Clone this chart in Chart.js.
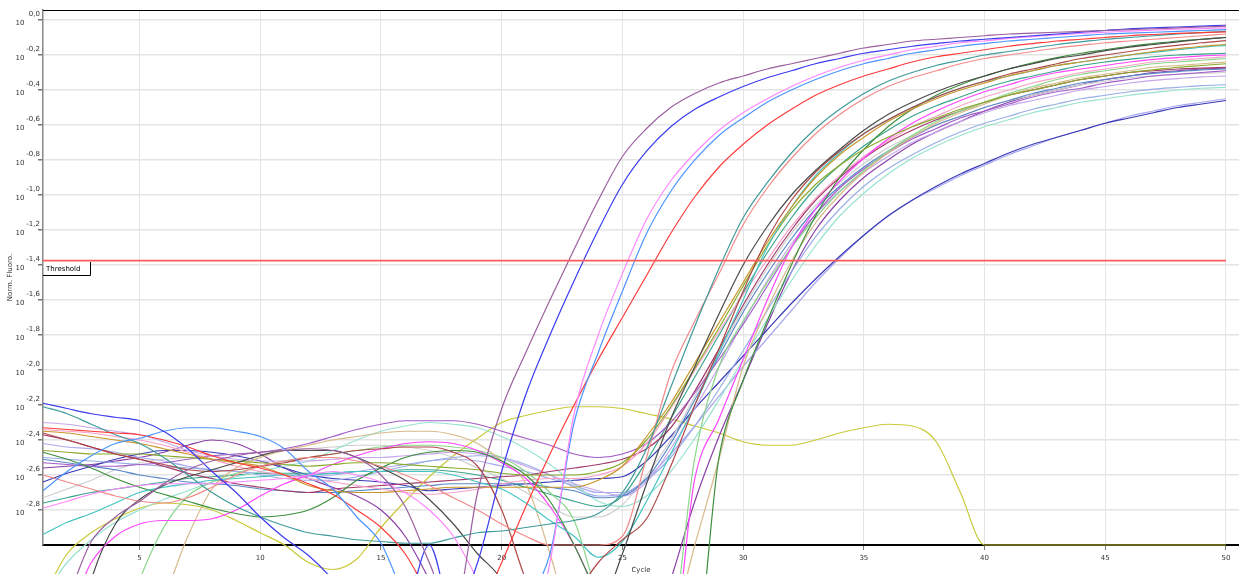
<!DOCTYPE html>
<html><head><meta charset="utf-8">
<script src="https://cdn.jsdelivr.net/npm/chart.js@4.4.1/dist/chart.umd.min.js"></script>
<style>html,body{margin:0;padding:0;background:#fff;overflow:hidden}canvas{display:block}</style>
</head><body>
<canvas id="c" width="1239" height="574"></canvas>
<script>
// ---- data (log10 of normalised fluorescence) ----
const cycles = [1,2,3,4,5,6,7,8,9,10,11,12,13,14,15,16,17,18,19,20,21,22,23,24,25,26,27,28,29,30,31,32,33,34,35,36,37,38,39,40,41,42,43,44,45,46,47,48,49,50];
const xTickValues = [5,10,15,20,25,30,35,40,45,50];
const yTickValues = [-2.8,-2.6,-2.4,-2.2,-2.0,-1.8,-1.6,-1.4,-1.2,-1.0,-0.8,-0.6,-0.4,-0.2,0.0];
const thresholdLevel = -1.375;
const axisTitles = ['Cycle', 'Norm. Fluoro.'];

const mauveA = [-3.5,-3.3,-2.98,-2.84,-2.75,-2.65,-2.57,-2.52,-2.49,-2.47,-2.46,-2.45,-2.46,-2.5,-2.6,-2.78,-3.1,-3.4,-2.7,-2.22,-1.9,-1.6,-1.31,-1.03,-0.78,-0.62,-0.5,-0.42,-0.36,-0.32,-0.28,-0.25,-0.22,-0.19,-0.16,-0.14,-0.12,-0.11,-0.1,-0.09,-0.08,-0.075,-0.07,-0.065,-0.06,-0.055,-0.05,-0.045,-0.04,-0.035];
const blueA = [-2.19,-2.22,-2.25,-2.27,-2.29,-2.35,-2.45,-2.58,-2.7,-2.84,-2.96,-3.06,-3.2,-3.4,-3.5,-3.4,-3.0,-3.4,-3.1,-2.58,-2.14,-1.8,-1.49,-1.2,-0.94,-0.75,-0.61,-0.51,-0.44,-0.38,-0.33,-0.29,-0.25,-0.22,-0.19,-0.17,-0.15,-0.135,-0.12,-0.11,-0.1,-0.09,-0.08,-0.07,-0.06,-0.05,-0.045,-0.04,-0.035,-0.03];
const pinkA = [-2.79,-2.75,-2.71,-2.68,-2.66,-2.65,-2.65,-2.65,-2.64,-2.63,-2.62,-2.6,-2.58,-2.6,-2.64,-2.7,-2.8,-2.95,-3.2,-3.5,-3.6,-3.1,-2.25,-1.8,-1.45,-1.14,-0.92,-0.76,-0.63,-0.53,-0.45,-0.38,-0.32,-0.27,-0.23,-0.2,-0.17,-0.15,-0.13,-0.12,-0.105,-0.095,-0.085,-0.077,-0.07,-0.064,-0.058,-0.053,-0.049,-0.045];
const lightBlueA = [-2.69,-2.58,-2.49,-2.42,-2.39,-2.35,-2.33,-2.33,-2.35,-2.38,-2.45,-2.58,-2.68,-2.84,-2.99,-3.3,-3.5,-3.5,-3.4,-3.4,-3.3,-3.05,-2.3,-1.9,-1.55,-1.22,-0.98,-0.8,-0.66,-0.56,-0.47,-0.4,-0.34,-0.29,-0.25,-0.22,-0.19,-0.17,-0.15,-0.135,-0.12,-0.11,-0.1,-0.09,-0.08,-0.075,-0.07,-0.065,-0.06,-0.055];
const redA = [-2.33,-2.34,-2.35,-2.36,-2.37,-2.4,-2.44,-2.49,-2.53,-2.56,-2.6,-2.65,-2.71,-2.8,-2.9,-3.05,-3.3,-3.6,-3.4,-3.1,-2.78,-2.48,-2.2,-1.94,-1.7,-1.46,-1.22,-1.01,-0.84,-0.71,-0.6,-0.51,-0.43,-0.37,-0.32,-0.28,-0.24,-0.21,-0.19,-0.17,-0.15,-0.135,-0.12,-0.11,-0.1,-0.09,-0.083,-0.077,-0.072,-0.068];
const tealB = [-2.21,-2.25,-2.31,-2.37,-2.42,-2.5,-2.6,-2.7,-2.78,-2.84,-2.89,-2.93,-2.95,-2.97,-2.98,-2.99,-2.99,-2.96,-2.93,-2.92,-2.9,-2.88,-2.86,-2.82,-2.7,-2.45,-2.1,-1.75,-1.42,-1.13,-0.93,-0.76,-0.62,-0.51,-0.42,-0.35,-0.3,-0.26,-0.23,-0.2,-0.18,-0.16,-0.14,-0.125,-0.11,-0.1,-0.09,-0.08,-0.072,-0.065];
const salmonB = [-2.6,-2.64,-2.68,-2.72,-2.75,-2.76,-2.73,-2.67,-2.6,-2.55,-2.52,-2.5,-2.5,-2.52,-2.55,-2.6,-2.66,-2.73,-2.8,-2.88,-2.95,-3.0,-3.0,-3.0,-2.95,-2.5,-2.02,-1.72,-1.45,-1.17,-0.96,-0.79,-0.65,-0.54,-0.45,-0.38,-0.33,-0.29,-0.25,-0.22,-0.2,-0.18,-0.16,-0.145,-0.13,-0.12,-0.11,-0.1,-0.09,-0.08];
const blackB = [-4.0,-3.8,-3.2,-2.88,-2.74,-2.66,-2.61,-2.57,-2.53,-2.49,-2.46,-2.46,-2.46,-2.5,-2.56,-2.63,-2.74,-2.88,-3.05,-3.2,-3.5,-3.6,-3.5,-3.4,-3.05,-2.65,-2.28,-1.98,-1.68,-1.4,-1.18,-1.0,-0.86,-0.74,-0.63,-0.54,-0.47,-0.41,-0.36,-0.32,-0.28,-0.25,-0.22,-0.2,-0.175,-0.155,-0.14,-0.125,-0.11,-0.1];
const brownB = [-2.36,-2.4,-2.44,-2.48,-2.51,-2.54,-2.57,-2.58,-2.57,-2.55,-2.53,-2.5,-2.48,-2.46,-2.45,-2.44,-2.44,-2.47,-2.55,-2.8,-3.2,-3.5,-3.3,-3.1,-2.97,-2.85,-2.55,-2.2,-1.88,-1.55,-1.25,-1.03,-0.87,-0.75,-0.65,-0.57,-0.5,-0.44,-0.39,-0.35,-0.31,-0.28,-0.25,-0.22,-0.2,-0.18,-0.16,-0.145,-0.13,-0.118];
const goldB = [-2.35,-2.36,-2.38,-2.4,-2.42,-2.45,-2.48,-2.51,-2.53,-2.55,-2.6,-2.66,-2.69,-2.7,-2.7,-2.69,-2.68,-2.67,-2.67,-2.67,-2.67,-2.67,-2.67,-2.63,-2.55,-2.38,-2.19,-1.96,-1.73,-1.5,-1.27,-1.07,-0.9,-0.77,-0.67,-0.58,-0.51,-0.45,-0.4,-0.36,-0.32,-0.29,-0.26,-0.24,-0.22,-0.2,-0.18,-0.165,-0.15,-0.14];
const cyanB = [-2.94,-2.87,-2.82,-2.76,-2.7,-2.67,-2.65,-2.63,-2.62,-2.61,-2.6,-2.6,-2.59,-2.58,-2.58,-2.58,-2.58,-2.6,-2.64,-2.68,-2.76,-2.86,-2.95,-3.07,-2.98,-2.75,-2.48,-2.2,-1.9,-1.6,-1.3,-1.07,-0.89,-0.76,-0.65,-0.57,-0.5,-0.44,-0.39,-0.35,-0.32,-0.29,-0.26,-0.24,-0.22,-0.2,-0.185,-0.17,-0.155,-0.145];
const oliveB = [-2.46,-2.47,-2.48,-2.48,-2.48,-2.49,-2.5,-2.51,-2.52,-2.53,-2.54,-2.55,-2.54,-2.53,-2.53,-2.54,-2.55,-2.56,-2.57,-2.59,-2.6,-2.6,-2.6,-2.58,-2.53,-2.4,-2.21,-1.99,-1.76,-1.52,-1.29,-1.09,-0.94,-0.83,-0.74,-0.67,-0.61,-0.56,-0.51,-0.47,-0.43,-0.4,-0.37,-0.34,-0.32,-0.3,-0.285,-0.27,-0.26,-0.25];
const greenB = [-2.47,-2.51,-2.56,-2.62,-2.67,-2.71,-2.75,-2.79,-2.82,-2.84,-2.83,-2.8,-2.73,-2.63,-2.56,-2.5,-2.47,-2.46,-2.47,-2.52,-2.6,-2.75,-3.0,-3.3,-3.6,-3.6,-3.6,-3.6,-2.5,-2.06,-1.72,-1.4,-1.12,-0.9,-0.74,-0.61,-0.51,-0.43,-0.37,-0.32,-0.28,-0.245,-0.215,-0.19,-0.17,-0.15,-0.135,-0.12,-0.11,-0.1];
const magentaB = [-3.5,-3.4,-3.1,-2.95,-2.88,-2.86,-2.86,-2.85,-2.8,-2.72,-2.65,-2.6,-2.54,-2.49,-2.45,-2.42,-2.41,-2.42,-2.46,-2.53,-2.62,-2.78,-3.0,-3.3,-3.6,-3.6,-3.6,-2.62,-2.28,-1.94,-1.6,-1.3,-1.08,-0.92,-0.79,-0.68,-0.59,-0.52,-0.46,-0.41,-0.37,-0.33,-0.3,-0.28,-0.26,-0.24,-0.225,-0.215,-0.205,-0.2];
const rosePinkB = [-2.34,-2.35,-2.36,-2.38,-2.4,-2.43,-2.47,-2.51,-2.55,-2.58,-2.6,-2.62,-2.64,-2.66,-2.68,-2.7,-2.71,-2.7,-2.68,-2.65,-2.63,-2.62,-2.62,-2.6,-2.55,-2.42,-2.22,-2.0,-1.78,-1.57,-1.37,-1.18,-1.02,-0.89,-0.78,-0.69,-0.61,-0.55,-0.49,-0.44,-0.4,-0.36,-0.33,-0.3,-0.28,-0.26,-0.24,-0.23,-0.22,-0.21];
const tanB = [-3.6,-3.6,-3.6,-3.6,-3.5,-3.3,-2.95,-2.68,-2.56,-2.5,-2.46,-2.43,-2.4,-2.38,-2.36,-2.35,-2.35,-2.37,-2.42,-2.52,-2.65,-3.05,-3.5,-3.6,-3.6,-3.6,-3.5,-3.0,-2.51,-1.98,-1.65,-1.38,-1.16,-1.0,-0.87,-0.76,-0.67,-0.59,-0.53,-0.48,-0.43,-0.39,-0.36,-0.33,-0.31,-0.29,-0.27,-0.26,-0.25,-0.24];
const lightGreenB = [-3.6,-3.6,-3.6,-3.6,-3.2,-2.9,-2.72,-2.64,-2.59,-2.55,-2.52,-2.5,-2.48,-2.46,-2.44,-2.43,-2.43,-2.44,-2.46,-2.5,-2.58,-2.7,-2.86,-3.3,-3.6,-3.6,-3.5,-2.5,-1.98,-1.72,-1.5,-1.3,-1.13,-0.98,-0.86,-0.75,-0.66,-0.58,-0.52,-0.47,-0.42,-0.38,-0.34,-0.31,-0.29,-0.27,-0.25,-0.24,-0.23,-0.22];
const violetB = [-2.53,-2.54,-2.55,-2.55,-2.54,-2.53,-2.51,-2.49,-2.48,-2.47,-2.45,-2.42,-2.38,-2.34,-2.31,-2.29,-2.29,-2.29,-2.31,-2.35,-2.39,-2.43,-2.48,-2.5,-2.48,-2.42,-2.3,-2.13,-1.94,-1.74,-1.52,-1.3,-1.11,-0.96,-0.85,-0.76,-0.68,-0.62,-0.56,-0.52,-0.48,-0.44,-0.41,-0.39,-0.36,-0.34,-0.32,-0.31,-0.3,-0.29];
const maroonB = [-2.37,-2.4,-2.44,-2.48,-2.51,-2.55,-2.59,-2.62,-2.65,-2.67,-2.69,-2.7,-2.68,-2.67,-2.66,-2.65,-2.64,-2.63,-2.62,-2.61,-2.6,-2.58,-2.56,-2.54,-2.51,-2.45,-2.33,-2.12,-1.88,-1.63,-1.4,-1.2,-1.03,-0.9,-0.79,-0.7,-0.63,-0.57,-0.52,-0.47,-0.43,-0.4,-0.37,-0.34,-0.32,-0.3,-0.29,-0.28,-0.275,-0.27];
const steelB = [-2.51,-2.53,-2.55,-2.57,-2.6,-2.62,-2.64,-2.65,-2.66,-2.68,-2.69,-2.7,-2.7,-2.69,-2.68,-2.67,-2.66,-2.65,-2.65,-2.65,-2.65,-2.67,-2.69,-2.73,-2.72,-2.62,-2.42,-2.17,-1.92,-1.67,-1.45,-1.25,-1.08,-0.95,-0.84,-0.75,-0.67,-0.6,-0.55,-0.5,-0.46,-0.42,-0.39,-0.36,-0.34,-0.32,-0.305,-0.295,-0.285,-0.28];
const lavenderB = [-2.3,-2.31,-2.33,-2.35,-2.37,-2.41,-2.46,-2.49,-2.51,-2.52,-2.52,-2.52,-2.51,-2.5,-2.5,-2.49,-2.48,-2.47,-2.48,-2.5,-2.55,-2.6,-2.65,-2.69,-2.72,-2.64,-2.45,-2.22,-1.98,-1.73,-1.49,-1.28,-1.11,-0.98,-0.87,-0.78,-0.7,-0.64,-0.58,-0.53,-0.49,-0.46,-0.43,-0.4,-0.38,-0.36,-0.345,-0.335,-0.325,-0.32];
const paleCyanB = [-3.3,-3.1,-2.97,-2.87,-2.8,-2.74,-2.69,-2.64,-2.61,-2.58,-2.55,-2.52,-2.46,-2.4,-2.35,-2.32,-2.3,-2.31,-2.33,-2.38,-2.45,-2.54,-2.65,-2.75,-2.78,-2.72,-2.58,-2.39,-2.17,-1.94,-1.71,-1.49,-1.29,-1.12,-0.99,-0.88,-0.79,-0.72,-0.66,-0.61,-0.57,-0.53,-0.5,-0.47,-0.45,-0.43,-0.415,-0.4,-0.39,-0.385];
const cornflowerB = [-2.5,-2.51,-2.52,-2.53,-2.54,-2.55,-2.56,-2.57,-2.58,-2.6,-2.62,-2.63,-2.63,-2.61,-2.58,-2.55,-2.52,-2.5,-2.49,-2.5,-2.54,-2.6,-2.67,-2.72,-2.71,-2.63,-2.5,-2.32,-2.11,-1.89,-1.66,-1.44,-1.24,-1.08,-0.95,-0.85,-0.77,-0.7,-0.64,-0.59,-0.55,-0.51,-0.48,-0.45,-0.43,-0.41,-0.395,-0.385,-0.375,-0.37];
const greyB = [-2.73,-2.68,-2.63,-2.57,-2.53,-2.51,-2.5,-2.49,-2.48,-2.47,-2.46,-2.45,-2.44,-2.43,-2.43,-2.44,-2.46,-2.5,-2.56,-2.62,-2.7,-2.78,-2.84,-2.84,-2.77,-2.6,-2.4,-2.15,-1.9,-1.65,-1.42,-1.22,-1.06,-0.93,-0.82,-0.73,-0.66,-0.6,-0.55,-0.5,-0.46,-0.43,-0.4,-0.37,-0.35,-0.33,-0.32,-0.31,-0.305,-0.3];
const seaGreenB = [-2.76,-2.73,-2.7,-2.68,-2.66,-2.64,-2.62,-2.61,-2.6,-2.59,-2.59,-2.59,-2.59,-2.58,-2.58,-2.57,-2.57,-2.58,-2.6,-2.63,-2.67,-2.71,-2.75,-2.78,-2.72,-2.52,-2.28,-2.04,-1.8,-1.56,-1.33,-1.13,-0.96,-0.83,-0.72,-0.63,-0.55,-0.49,-0.44,-0.39,-0.35,-0.32,-0.29,-0.26,-0.24,-0.225,-0.21,-0.2,-0.195,-0.19];
const slateC = [-2.64,-2.59,-2.55,-2.51,-2.48,-2.46,-2.46,-2.47,-2.49,-2.52,-2.56,-2.6,-2.62,-2.63,-2.64,-2.66,-2.69,-2.68,-2.67,-2.66,-2.65,-2.64,-2.63,-2.62,-2.61,-2.52,-2.38,-2.22,-2.07,-1.92,-1.77,-1.62,-1.48,-1.35,-1.23,-1.12,-1.03,-0.95,-0.88,-0.82,-0.76,-0.71,-0.67,-0.63,-0.59,-0.56,-0.53,-0.5,-0.48,-0.46];
const periwinkleC = [-2.42,-2.44,-2.45,-2.47,-2.5,-2.52,-2.55,-2.57,-2.58,-2.59,-2.6,-2.61,-2.6,-2.58,-2.56,-2.54,-2.52,-2.51,-2.52,-2.55,-2.58,-2.62,-2.66,-2.7,-2.7,-2.62,-2.48,-2.32,-2.15,-1.98,-1.82,-1.66,-1.5,-1.36,-1.23,-1.12,-1.03,-0.96,-0.89,-0.83,-0.77,-0.72,-0.67,-0.63,-0.59,-0.55,-0.52,-0.49,-0.47,-0.45];
const orchidB = [-2.56,-2.55,-2.54,-2.52,-2.5,-2.47,-2.43,-2.4,-2.42,-2.48,-2.56,-2.62,-2.67,-2.72,-2.8,-2.95,-3.2,-3.5,-3.6,-3.6,-3.6,-3.6,-3.6,-3.6,-3.6,-3.6,-3.2,-2.75,-2.38,-2.06,-1.74,-1.44,-1.2,-1.03,-0.9,-0.8,-0.71,-0.64,-0.58,-0.52,-0.47,-0.43,-0.4,-0.37,-0.34,-0.32,-0.3,-0.29,-0.28,-0.275];
const yellowN = [-3.3,-3.05,-2.93,-2.85,-2.79,-2.76,-2.77,-2.8,-2.86,-2.93,-3.0,-3.1,-3.14,-3.08,-2.9,-2.75,-2.61,-2.49,-2.39,-2.3,-2.26,-2.23,-2.21,-2.21,-2.22,-2.25,-2.28,-2.32,-2.36,-2.41,-2.43,-2.43,-2.4,-2.36,-2.33,-2.31,-2.32,-2.41,-2.7,-3.0,-3.0,-3.0,-3.0,-3.0,-3.0,-3.0,-3.0,-3.0,-3.0,-3.0];

const seriesData = [mauveA, blueA, pinkA, lightBlueA, redA, tealB, salmonB, blackB, brownB, goldB, cyanB, oliveB, greenB, magentaB, rosePinkB, tanB, lightGreenB, violetB, maroonB, steelB, lavenderB, paleCyanB, cornflowerB, greyB, seaGreenB, slateC, periwinkleC, orchidB, yellowN];
const seriesColors = ['#9b5fa0','#3b3bf0','#ff88ff','#4c94ff','#ff3b3b','#3f9a9a','#f28a8a','#4a4a4a','#b04848','#c8962a','#45c4c4','#8aaa2a','#3c8f3c','#ff44ff','#f7a1c8','#d8b98a','#8ad68a','#a35cc8','#a33a6a','#5a88c8','#c6a6ea','#98e2d2','#98aee6','#cfcfcf','#3aa58c','#3a3ab8','#a8a8ee','#8a3fa8','#c9c93a'];

// ---- chart ----
const FONT = 'DejaVu Sans';
const datasets = seriesData.map((d, i) => ({
  data: d,
  borderColor: seriesColors[i],
  borderWidth: 1.2,
  pointRadius: 0,
  cubicInterpolationMode: 'monotone',
  fill: false,
  clip: false,
  order: 1
}));
datasets.push({
  data: [{x: cycles[0], y: thresholdLevel}, {x: cycles[cycles.length - 1], y: thresholdLevel}],
  borderColor: '#ff5a5a',
  borderWidth: 1.8,
  pointRadius: 0,
  fill: false,
  order: 0
});

const framePlugin = {
  id: 'framePlugin',
  afterDatasetsDraw(chart) {
    const {ctx, chartArea: a, scales} = chart;
    ctx.save();
    ctx.strokeStyle = '#000';
    ctx.lineWidth = 1;
    ctx.beginPath();
    ctx.moveTo(a.left, a.top + 0.5);
    ctx.lineTo(a.right, a.top + 0.5);
    ctx.stroke();
    const ty = Math.round(scales.y.getPixelForValue(thresholdLevel));
    ctx.fillStyle = '#fff';
    ctx.fillRect(a.left + 1, ty + 1, 46, 13);
    ctx.beginPath();
    ctx.moveTo(a.left, ty + 14.5);
    ctx.lineTo(a.left + 47.5, ty + 14.5);
    ctx.lineTo(a.left + 47.5, ty + 1);
    ctx.stroke();
    ctx.fillStyle = '#000';
    ctx.font = '7px "' + FONT + '"';
    ctx.textBaseline = 'middle';
    ctx.textAlign = 'left';
    ctx.fillText('Threshold', a.left + 3, ty + 8);
    ctx.restore();
  }
};

new Chart(document.getElementById('c'), {
  type: 'line',
  data: {labels: cycles, datasets},
  plugins: [framePlugin],
  options: {
    responsive: false,
    animation: false,
    layout: {padding: {top: 10, right: 0, left: 0, bottom: 0}},
    plugins: {legend: {display: false}, tooltip: {enabled: false}},
    scales: {
      x: {
        type: 'linear',
        min: 1,
        max: 50.54,
        afterBuildTicks: (s) => { s.ticks = xTickValues.map(v => ({value: v})); },
        afterFit: (s) => { s.height = 29; },
        grid: {color: '#e4e4e4', lineWidth: 1, tickLength: 5, tickColor: '#777'},
        border: {color: '#000', width: 2},
        ticks: {font: {family: FONT, size: 7}, color: '#333', padding: 4, maxRotation: 0, autoSkip: false},
        title: {display: true, text: axisTitles[0], font: {family: FONT, size: 7}, color: '#333', padding: {top: 0, bottom: 0}}
      },
      y: {
        type: 'linear',
        min: -3.0,
        max: 0.057,
        afterBuildTicks: (s) => { s.ticks = yTickValues.map(v => ({value: v})); },
        afterFit: (s) => { s.width = 43; },
        grid: {color: '#e4e4e4', lineWidth: 1.5, tickLength: 5, tickColor: '#777'},
        border: {color: '#888', width: 1.5},
        ticks: {
          font: {family: FONT, size: 7, lineHeight: '9.3px'},
          color: '#333',
          padding: -2,
          labelOffset: -1.4,
          autoSkip: false,
          callback: (v) => {
            const e = (Math.abs(v) < 1e-9 ? 0 : v).toFixed(1).replace('.', ',');
            return [e, '10' + '\u00A0'.repeat(7)];
          }
        },
        title: {display: true, text: axisTitles[1], font: {family: FONT, size: 7}, color: '#333', padding: {top: 6, bottom: 0}}
      }
    }
  }
});
</script>
</body></html>
